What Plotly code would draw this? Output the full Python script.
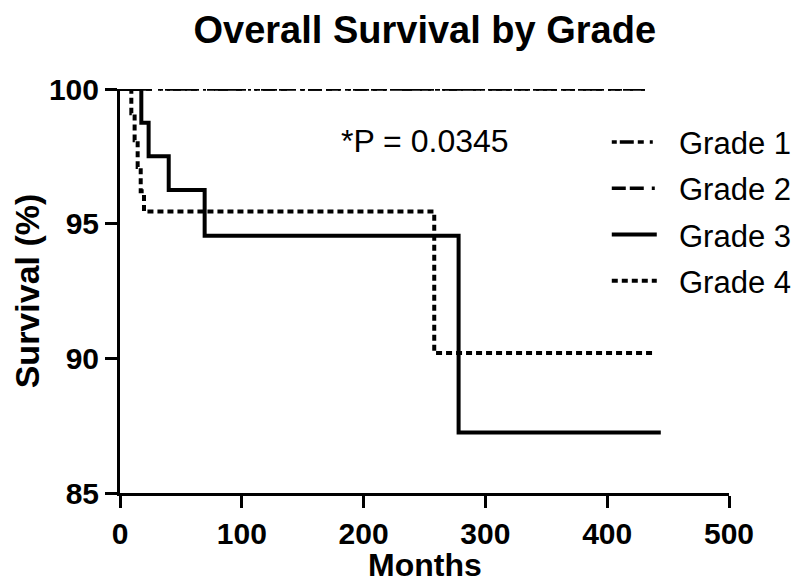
import plotly.graph_objects as go

# ---- data ----
grade1_months = [0, 431]
grade1_surv = [100, 100]

grade2_months = [0, 431]
grade2_surv = [100, 100]

grade3_months = [0, 17.5, 23.5, 40, 69.5, 278, 444]
grade3_surv = [100, 98.75, 97.5, 96.25, 94.55, 87.25, 87.25]

grade4_months = [0, 9.3, 12, 14.5, 17, 19.7, 258, 437.5]
grade4_surv = [100, 99.1, 98.1, 97.1, 96.2, 95.45, 90.2, 90.2]

series_names = ["Grade 1", "Grade 2", "Grade 3", "Grade 4"]
x_ticks = [0, 100, 200, 300, 400, 500]
y_ticks = [85, 90, 95, 100]

FONT = "Liberation Sans, Arial, sans-serif"
NB = "\u00a0\u00a0"  # gap between legend sample and legend text

fig = go.Figure()
series = [
    (series_names[0], grade1_months, grade1_surv, "5px,3px,14px,4px,6px,6px,3px,4px", 3.5),
    (series_names[1], grade2_months, grade2_surv, "14px,4px,14px,8px,3px,4px", 3.5),
    (series_names[2], grade3_months, grade3_surv, "solid", 4),
    (series_names[3], grade4_months, grade4_surv, "6px,4px", 4),
]
for i, (name, xs, ys, dash, w) in enumerate(series):
    fig.add_trace(go.Scatter(
        x=xs, y=ys, mode="lines", name=NB + name, line_shape="hv",
        line=dict(color="black", width=w, dash=dash),
        legendgroup=f"g{i}",
    ))

fig.add_annotation(
    xref="paper", yref="paper", x=0.5008, y=0.871,
    text="*P = 0.0345", showarrow=False,
    font=dict(family=FONT, size=32, color="black"),
    xanchor="center", yanchor="middle",
)
# x-axis title placed explicitly
fig.add_annotation(
    xref="paper", yref="paper", x=0.5, y=-0.178,
    text="Months", showarrow=False,
    font=dict(family=FONT, size=32, color="black", weight="bold"),
    xanchor="center", yanchor="middle",
)

fig.update_layout(
    width=800, height=588,
    paper_bgcolor="white", plot_bgcolor="white",
    margin=dict(l=112, r=78, t=81, b=103),
    title=dict(text="Overall Survival by Grade", x=0.521, xanchor="center",
               y=0.963, yanchor="middle",
               font=dict(family=FONT, size=38, color="black", weight="bold")),
    legend=dict(x=0.798, y=0.935, xanchor="left", yanchor="top",
                font=dict(family=FONT, size=31, color="black"),
                bgcolor="rgba(0,0,0,0)", tracegroupgap=3, itemwidth=45),
    showlegend=True,
)
fig.update_xaxes(
    range=[0, 500], tickvals=x_ticks, showgrid=False, zeroline=False,
    showline=True, linecolor="black", linewidth=3, automargin=False,
    ticks="outside", ticklen=12, tickwidth=3, tickcolor="black",
    tickfont=dict(family=FONT, size=30, color="black", weight="bold"),
)
fig.update_yaxes(
    range=[85, 100], tickvals=y_ticks, showgrid=False, zeroline=False,
    showline=True, linecolor="black", linewidth=3, automargin=False,
    ticks="outside", ticklen=12, tickwidth=3, tickcolor="black",
    tickfont=dict(family=FONT, size=30, color="black", weight="bold"),
    title=dict(text="Survival (%)", font=dict(family=FONT, size=34, color="black", weight="bold"),
               standoff=8),
)

fig.write_html("out.html")
